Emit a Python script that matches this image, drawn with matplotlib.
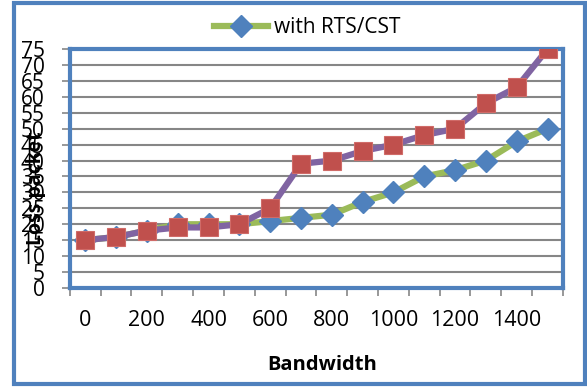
import matplotlib.pyplot as plt
from matplotlib.lines import Line2D
from matplotlib.patches import Rectangle

# Data
bandwidth = [0, 100, 200, 300, 400, 500, 600, 700, 800, 900, 1000, 1100, 1200, 1300, 1400, 1500]
with_rts = [15, 16, 18, 20, 20, 20, 21, 22, 23, 27, 30, 35, 37, 40, 46, 50]
without_rts = [15, 16, 18, 19, 19, 20, 25, 39, 40, 43, 45, 48, 50, 58, 63, 75]
y_ticks = list(range(0, 80, 5))

BLUE = '#4F81BD'
GREEN = '#9BBB59'
PURPLE = '#8064A2'
RED = '#C0504D'
GRID = '#868686'

plt.rcParams['font.family'] = ['Open Sans', 'DejaVu Sans']

fig = plt.figure(figsize=(5.87, 3.87), dpi=100)
ax = fig.add_axes([0.119, 0.256, 0.840, 0.617])

pos = list(range(len(bandwidth)))
ax.plot(pos, with_rts, color=GREEN, lw=4.5, marker='D', ms=11,
        mfc=BLUE, mec=BLUE, zorder=3)
ax.plot(pos, without_rts, color=PURPLE, lw=4.5, marker='s', ms=13.5,
        mfc=RED, mec='#D06B68', mew=0.8, zorder=4)

ax.set_xlim(-0.5, len(bandwidth) - 0.5)
ax.set_ylim(0, 75)

# y axis
ax.set_yticks(y_ticks)
ax.set_yticklabels([str(v) for v in y_ticks], fontsize=15)
ax.tick_params(axis='y', length=6, width=1.2, color=GRID, pad=12)
ax.yaxis.grid(True, color=GRID, lw=1.5)
ax.set_axisbelow(True)

# x axis: ticks on category boundaries, labels every other category
ax.set_xticks([p - 0.5 for p in pos] + [len(bandwidth) - 0.5])
ax.set_xticklabels([])
ax.tick_params(axis='x', length=6, width=1.2, color=GRID)
ax.set_xticks(pos[::2], minor=True)
ax.set_xticklabels([str(b) for b in bandwidth[::2]], minor=True, fontsize=15.5)
ax.tick_params(axis='x', which='minor', length=0, pad=16)

for side in ax.spines.values():
    side.set_color(BLUE)
    side.set_linewidth(3)

fig.text(0.549, 0.057, 'Bandwidth', ha='center', va='center',
         fontsize=14.5, fontweight='bold')
fig.text(0.062, 0.515, 'Loss packet', ha='center', va='center',
         rotation=90, fontsize=14, fontweight='bold')

handle = Line2D([], [], color=GREEN, lw=4.5, marker='D', ms=11,
                mfc=BLUE, mec=BLUE)
fig.legend(handles=[handle], labels=['with RTS/CST'], loc='center',
           bbox_to_anchor=(0.523, 0.928), frameon=False, fontsize=15,
           handlelength=2.6, handletextpad=0.3)

# outer chart border
fig.patches.append(Rectangle((0.024, 0.008), 0.972, 0.984, transform=fig.transFigure,
                             fill=False, edgecolor=BLUE, lw=3))

fig.savefig('out.png', dpi=100)
